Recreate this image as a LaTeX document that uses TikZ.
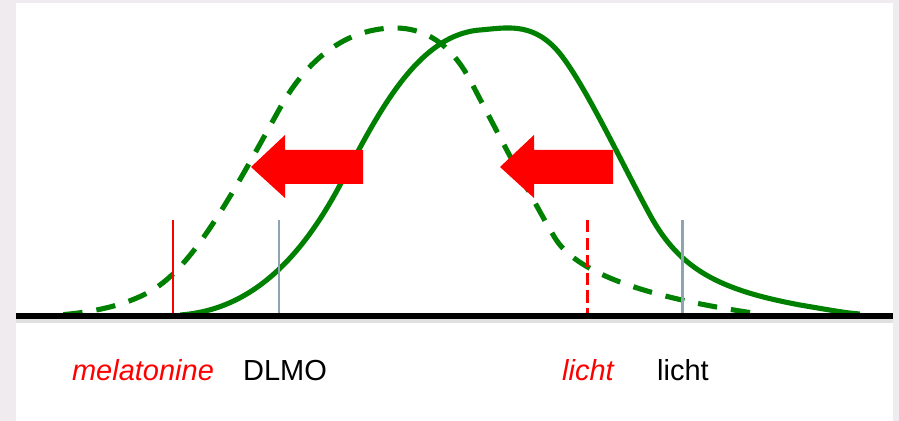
\documentclass[tikz,border=0pt]{standalone}
\usepackage{fontspec}
\setmainfont{Liberation Sans}
\usetikzlibrary{positioning}
\definecolor{curvegreen}{HTML}{008000}
\definecolor{pagegray}{HTML}{EFEBEF}
\definecolor{markgray}{HTML}{8EA4B3}
\definecolor{shiftred}{HTML}{FF0000}

\begin{document}
\begin{tikzpicture}[x=0.02cm,y=-0.02cm,
  curve/.style={draw=curvegreen,line width=2.9pt,line join=round},
  shifted/.style={curve,dash pattern=on 11pt off 8pt},
  marker/.style={line width=1.7pt},
  shiftarrow/.style={fill=shiftred,draw=none},
  lbl/.style={anchor=base,inner sep=0pt,font=\fontsize{16.5}{18}\selectfont}]
\fill[pagegray] (0,0) rectangle (899,421);
\fill[white] (16,3) rectangle (893,421);
\useasboundingbox (0,0) rectangle (899,421);
% shifted (dashed) curve
\draw[shifted] (30,316) .. controls (80,316) and (130,307) .. (160,285)
  .. controls (200,256) and (240,180) .. (280,108)
  .. controls (315,45) and (360,28) .. (395,28)
  .. controls (432,28) and (455,52) .. (470,80)
  .. controls (490,118) and (535,205) .. (555,238)
  .. controls (575,271) and (640,297) .. (760,314);
% original curve
\draw[curve] (180,315) .. controls (250,310) and (300,260) .. (340,185)
  .. controls (375,120) and (415,35) .. (480,30)
  .. controls (505,28) and (530,22) .. (555,48)
  .. controls (580,74) and (620,160) .. (650,215)
  .. controls (680,270) and (720,290) .. (800,305)
  .. controls (830,310) and (845,313) .. (860,314);
% markers on the axis
\coordinate (melTop) at (173,220);
\coordinate (dlmoTop) at (279,220);
\coordinate (lichtNewTop) at (587,220);
\coordinate (lichtTop) at (682,220);
\draw[marker,shiftred] (melTop) -- ++(0,96);
\draw[marker,markgray] (dlmoTop) -- ++(0,96);
\draw[marker,shiftred,dash pattern=on 7pt off 3pt] (lichtNewTop) -- ++(0,96);
\draw[marker,markgray] (lichtTop) -- ++(0,96);
% axis
\draw[black!12,line width=2pt] (16,321) -- (893,321);
\draw[black,line width=3.4pt] (16,316) -- (893,316);
% shift arrows
\fill[shiftarrow] (363,150) -- (285,150) -- (285,135) -- (251,167) -- (285,198)
  -- (285,184) -- (363,184) -- cycle;
\fill[shiftarrow] (613,150) -- (534,150) -- (534,135) -- (500,167) -- (534,198)
  -- (534,184) -- (613,184) -- cycle;
% labels
\node[lbl,text=shiftred,font=\fontsize{16.5}{18}\selectfont\itshape] (melLabel) at (143,381) {melatonine};
\node[lbl] (dlmoLabel) at (285,381) {DLMO};
\node[lbl,text=shiftred,font=\fontsize{16.5}{18}\selectfont\itshape] (lichtNewLabel) at (588,381) {licht};
\node[lbl] (lichtLabel) at (683,381) {licht};
\end{tikzpicture}
\end{document}
